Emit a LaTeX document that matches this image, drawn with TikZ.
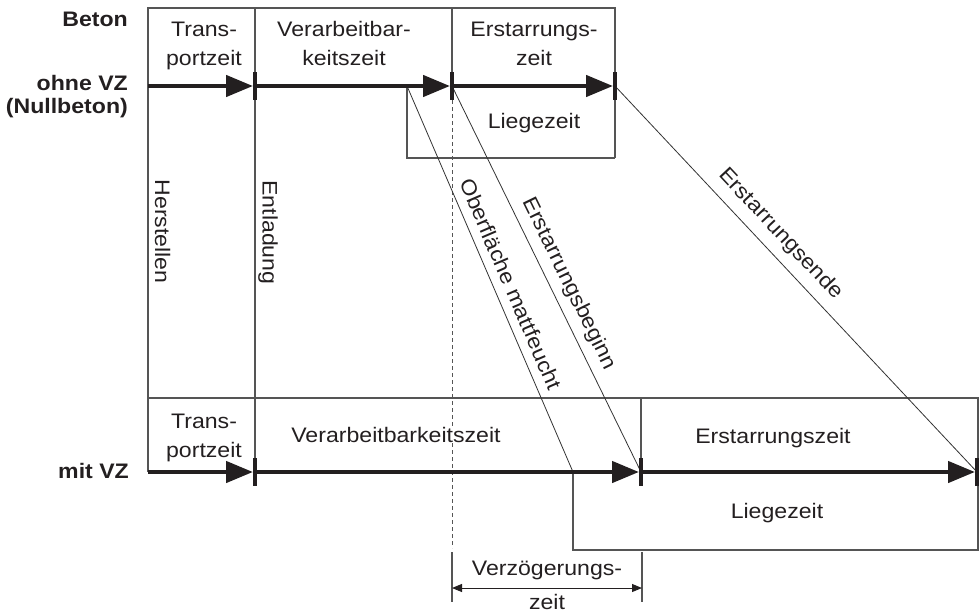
\documentclass[tikz,border=0pt]{standalone}
\usepackage{fontspec}
\setmainfont{Liberation Sans}[FakeStretch=1.1]
\usetikzlibrary{arrows.meta}
\definecolor{ink}{HTML}{231F20}
\definecolor{rulegray}{HTML}{555555}
\definecolor{guidegray}{HTML}{333333}
\begin{document}
\begin{tikzpicture}[x=1pt,y=-1pt,
  txt/.style={font=\fontsize{21}{29}\selectfont, text=ink, inner sep=0pt, align=center, anchor=base},
  sidelbl/.style={font=\fontsize{21}{22.5}\selectfont\bfseries, text=ink, inner sep=0pt, align=right, anchor=base east},
  frame/.style={draw=rulegray, line width=1.1pt},
  guide/.style={draw=guidegray, line width=0.8pt},
  dashguide/.style={draw=rulegray, line width=1pt, dash pattern=on 4pt off 3pt},
  timearrow/.style={draw=ink, line width=4.5pt, -{Triangle[length=27pt,width=21pt]}},
  tickmark/.style={draw=ink, line width=4pt},
  dimarrow/.style={draw=ink, line width=1pt, {Triangle[length=10pt,width=8pt]}-{Triangle[length=10pt,width=8pt]}},
]
\useasboundingbox (0,0) rectangle (980,613);

% time points, without retarder (top) and with retarder (bottom)
\coordinate (a0) at (148,86);
\coordinate (a1) at (255,86);
\coordinate (am) at (407,86);
\coordinate (a2) at (452,86);
\coordinate (a3) at (615,86);
\coordinate (b0) at (148,472);
\coordinate (b1) at (255,472);
\coordinate (bm) at (573,472);
\coordinate (b2) at (641,472);
\coordinate (b3) at (977,472);
\coordinate (d1) at (452,588);
\coordinate (d2) at (642,588);

% frames
\draw[frame] (615,158) -- (615,8) -- (148,8) -- (b0);
\draw[frame] (255,8) -- (b1);
\draw[frame] (452,8) -- (a2);
\draw[frame] (am) -- (407,158) -- (615,158);
\draw[frame] (148,398) -- (978,398) -- (978,550) -- (573,550) -- (bm);
\draw[frame] (641,398) -- (b2);
\draw[dashguide] (452,100) -- (452,548);
\draw[frame] (452,552) -- (452,602);
\draw[frame] (642,552) -- (642,602);
\draw[dimarrow] (d1) -- (d2);

% diagonal connectors
\draw[guide] (am) -- (bm);
\draw[guide] (a2) -- (b2);
\draw[guide] (a3) -- (b3);

% time arrows
\draw[timearrow] (a0) -- ([xshift=-2pt]a1);
\draw[timearrow] (a1) -- ([xshift=-2pt]a2);
\draw[timearrow] (a2) -- ([xshift=-2pt]a3);
\draw[timearrow] (b0) -- ([xshift=-2pt]b1);
\draw[timearrow] (b1) -- ([xshift=-2pt]b2);
\draw[timearrow] (b2) -- ([xshift=-2pt]b3);
\foreach \p in {a1,a2,a3,b1,b2,b3}
  \draw[tickmark] ([yshift=14pt]\p) -- ([yshift=-14pt]\p);

% side labels
\node[sidelbl] (beton) at (128,27) {Beton};
\node[sidelbl] (ohne) at (128,113) {ohne VZ\hspace{3pt}\\(Nullbeton)};
\node[sidelbl] (mit) at (129,478) {mit VZ};

% top labels
\node[txt] (ttrans) at (204,65) {Trans-\\portzeit};
\node[txt] (tverarb) at (344,65) {Verarbeitbar-\\keitszeit};
\node[txt] (terst) at (534,65) {Erstarrungs-\\zeit};
\node[txt] (tliege) at (534,128) {Liegezeit};

% vertical labels
\node[txt, rotate=-90] (herst) at (155,231.5) {Herstellen};
\node[txt, rotate=-90] (entl) at (262.5,232.5) {Entladung};

% diagonal labels
\node[txt, rotate=-66.7] (matt) at (504,287) {Oberfläche mattfeucht};
\node[txt, rotate=-63.9] (beginn) at (564,286) {Erstarrungsbeginn};
\node[txt, rotate=-46.8] (ende) at (776.6,237.8) {Erstarrungsende};

% bottom labels
\node[txt] (btrans) at (204,457) {Trans-\\portzeit};
\node[txt, fill=white] (bverarb) at (396,442) {Verarbeitbarkeitszeit};
\node[txt] (berst) at (773,443) {Erstarrungszeit};
\node[txt] (bliege) at (777,518) {Liegezeit};
\node[txt] (verz) at (547,609) {Verzögerungs-\\[5pt]zeit};
\end{tikzpicture}
\end{document}
